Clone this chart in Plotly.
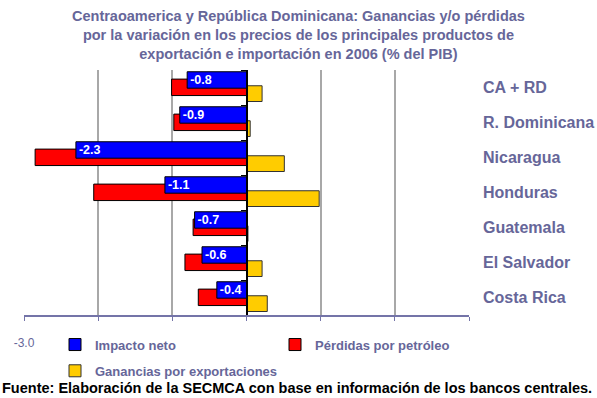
import plotly.graph_objects as go

# Categories, top to bottom
paises = ["CA + RD", "R. Dominicana", "Nicaragua", "Honduras",
          "Guatemala", "El Salvador", "Costa Rica"]

# Values in % of GDP, 2006
impacto_neto = [-0.8, -0.9, -2.3, -1.1, -0.7, -0.6, -0.4]
perdidas_petroleo = [-1.01, -0.98, -2.85, -2.06, -0.72, -0.83, -0.65]
ganancias_export = [0.21, 0.05, 0.51, 0.98, 0.02, 0.21, 0.28]

# X axis ticks (only the leftmost label is shown)
x_ticks = [-3, -2, -1, 0, 1, 2, 3]
x_ticktext = ["-3.0", "", "", "", "", "", ""]

titulo = [
    "Centraoamerica y República Dominicana: Ganancias y/o pérdidas",
    "por la variación en los precios de los principales productos de",
    "exportación e importación en 2006 (% del PIB)",
]
fuente = "Fuente: Elaboración de la SECMCA con base en información de los bancos centrales."

TXT = "#666699"
FONT = "Liberation Sans, Arial, sans-serif"

W, H = 597, 398
L, R, T, B = 24, 128, 70, 76
PW, PH = W - L - R, H - T - B


def px_x(px):
    """pixel column -> paper x"""
    return (px - L) / PW


def px_y(py):
    """pixel row -> paper y"""
    return (H - B - py) / PH


fig = go.Figure()

# drawn back to front: gains, oil losses, net impact on top
fig.add_trace(go.Bar(
    y=paises, x=ganancias_export, orientation="h", name="Ganancias por exportaciones",
    marker=dict(color="#ffcc00", line=dict(color="#333333", width=1)),
    offset=-0.05, width=0.45, legend="legend2", hoverinfo="x+name",
))
fig.add_trace(go.Bar(
    y=paises, x=perdidas_petroleo, orientation="h", name="Pérdidas por petróleo",
    marker=dict(color="#ff0000", line=dict(color="#000000", width=1)),
    offset=-0.24, width=0.47, legendrank=2, hoverinfo="x+name",
))
fig.add_trace(go.Bar(
    y=paises, x=impacto_neto, orientation="h", name="Impacto neto",
    marker=dict(color="#0000ff", line=dict(color="#000000", width=1)),
    offset=-0.45, width=0.47, legendrank=1,
    text=impacto_neto, texttemplate="%{x:.1f}", textposition="inside",
    insidetextanchor="end", constraintext="none",
    textfont=dict(family=FONT, size=12.5, color="white", weight="bold"),
    hoverinfo="x+name",
))

# category names to the right of the plot
for p in paises:
    fig.add_annotation(
        x=1, xref="paper", y=p, yref="y", text=f"<b>{p}</b>",
        showarrow=False, xanchor="left", xshift=12,
        font=dict(family=FONT, size=16, color=TXT),
    )

# three-line heading
fig.add_annotation(
    x=px_x(W / 2), xref="paper", y=px_y(34.5), yref="paper",
    text="<b>" + "<br>".join(titulo) + "</b>", showarrow=False,
    xanchor="center", yanchor="middle", align="center",
    font=dict(family=FONT, size=14.5, color=TXT),
)

# source line along the bottom edge
fig.add_annotation(
    x=px_x(0), xref="paper", y=px_y(387), yref="paper",
    text=f"<b>{fuente}</b>",
    showarrow=False, xanchor="left", yanchor="top",
    font=dict(family=FONT, size=14.5, color="black"),
)

fig.update_layout(
    width=W, height=H,
    margin=dict(l=L, r=R, t=T, b=B),
    paper_bgcolor="white", plot_bgcolor="white",
    barmode="overlay",
    xaxis=dict(
        range=[-3, 3], tickvals=x_ticks, ticktext=x_ticktext,
        showgrid=True, gridcolor="#a8a8a8", gridwidth=1.5,
        zeroline=True, zerolinecolor="black", zerolinewidth=2,
        showline=True, linecolor="#7474a8", linewidth=2,
        ticks="outside", ticklen=4, tickcolor="#7474a8", tickwidth=1,
        ticklabelstandoff=12,
        tickfont=dict(family=FONT, size=12, color=TXT),
    ),
    yaxis=dict(
        categoryorder="array", categoryarray=paises, autorange="reversed",
        anchor="free", position=0.5, side="left",
        showline=True, linecolor="black", linewidth=2,
        ticks="outside", tickson="boundaries", ticklen=5, tickcolor="black",
        showticklabels=False, showgrid=False,
    ),
    legend=dict(
        orientation="h", x=px_x(55), xanchor="left",
        y=px_y(337), yanchor="top",
        entrywidth=175, entrywidthmode="pixels", traceorder="normal",
        font=dict(family=FONT, size=13, color=TXT, weight="bold"),
        bgcolor="rgba(0,0,0,0)",
    ),
    legend2=dict(
        orientation="h", x=px_x(55), xanchor="left",
        y=px_y(364), yanchor="top",
        font=dict(family=FONT, size=13, color=TXT, weight="bold"),
        bgcolor="rgba(0,0,0,0)",
    ),
    showlegend=True,
)

fig.write_html("out.html")
